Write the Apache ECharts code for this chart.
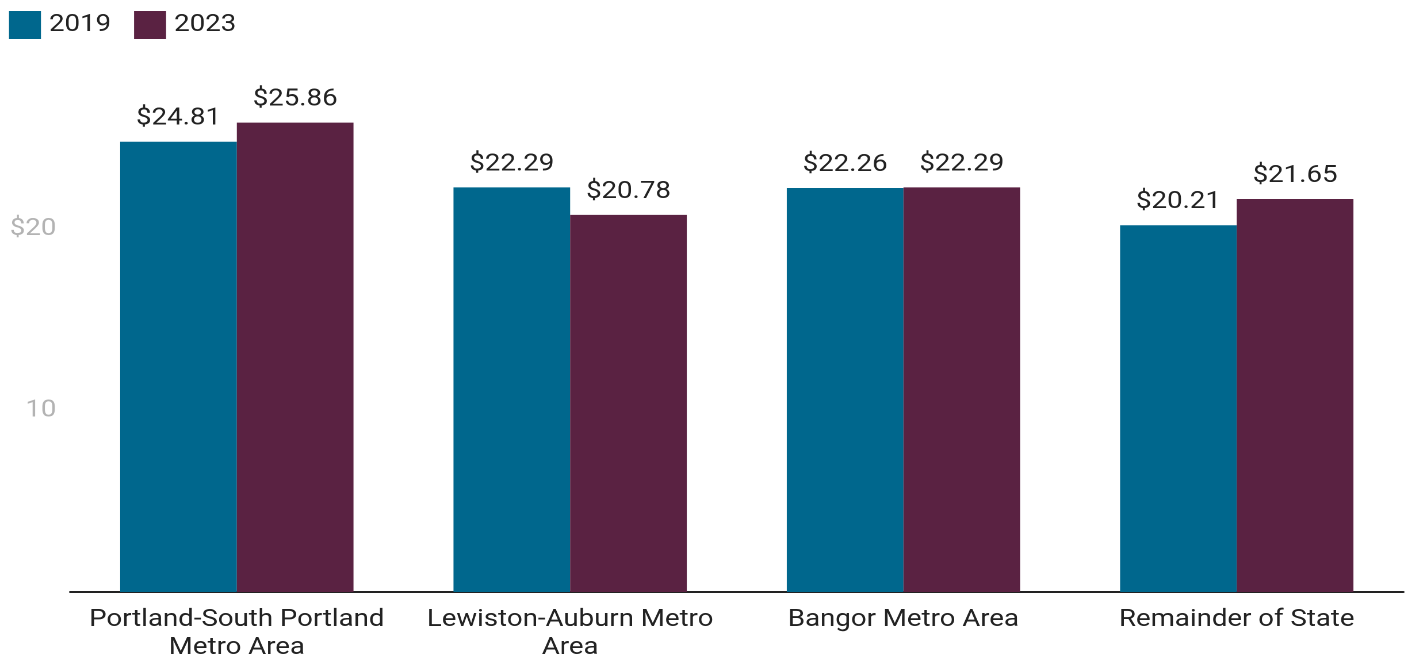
<!DOCTYPE html>
<html>
<head>
<meta charset="utf-8">
<script src="https://cdn.jsdelivr.net/npm/echarts@6/dist/echarts.min.js"></script>
<style>
  html, body { margin: 0; padding: 0; background: #fff; overflow: hidden; }
  /* The chart is laid out on a narrower canvas and widened to 1408px,
     which gives the lettering its broad, horizontally stretched look. */
  #chart {
    width: 1224px;
    height: 658px;
    transform: scaleX(1.15033);
    transform-origin: 0 0;
  }
</style>
</head>
<body>
<div id="chart"></div>
<script>
// Median hourly wage by region
const categories = [
  'Portland-South Portland\nMetro Area',
  'Lewiston-Auburn Metro\nArea',
  'Bangor Metro Area',
  'Remainder of State'
];
const wages2019 = [24.81, 22.29, 22.26, 20.21];
const wages2023 = [25.86, 20.78, 22.29, 21.65];
const seriesNames = ['2019', '2023'];
const seriesColors = ['#00678d', '#5a2242'];

const font = 'Roboto, "Noto Sans", sans-serif';
const fs = 24;

const chart = echarts.init(document.getElementById('chart'), null, {
  renderer: 'canvas',
  devicePixelRatio: 2
});

const valueLabel = {
  show: true,
  position: 'top',
  distance: 11,
  color: '#222',
  fontFamily: font,
  fontSize: fs,
  formatter: p => '$' + p.value.toFixed(2)
};

chart.setOption({
  animation: false,
  legend: {
    left: 7.8,
    top: 11,
    padding: 0,
    itemWidth: 27.8,
    itemHeight: 28,
    itemGap: 20,
    icon: 'rect',
    textStyle: { fontFamily: font, fontSize: fs, color: '#222', padding: [4, 0, 0, 2] },
    data: seriesNames
  },
  grid: {
    left: 61,
    right: 4,
    top: 47.5,
    bottom: 66,
    containLabel: false,
    outerBoundsMode: 'none'
  },
  xAxis: {
    type: 'category',
    data: categories,
    axisLine: { lineStyle: { color: '#222', width: 2 } },
    axisTick: { show: false },
    axisLabel: {
      color: '#222',
      fontFamily: font,
      fontSize: fs,
      lineHeight: 28,
      margin: 14,
      interval: 0
    }
  },
  yAxis: {
    type: 'value',
    min: 0,
    max: 30,
    interval: 10,
    splitLine: { show: false },
    axisLine: { show: false },
    axisTick: { show: false },
    axisLabel: {
      color: '#b3b3b3',
      fontFamily: font,
      fontSize: fs,
      margin: 12,
      padding: [5, 0, 0, 0],
      formatter: v => (v === 20 ? '$20' : v === 10 ? '10' : '')
    }
  },
  series: [
    {
      name: seriesNames[0],
      type: 'bar',
      data: wages2019,
      itemStyle: { color: seriesColors[0] },
      barGap: '0%',
      barCategoryGap: '30%',
      label: valueLabel
    },
    {
      name: seriesNames[1],
      type: 'bar',
      data: wages2023,
      itemStyle: { color: seriesColors[1] },
      barGap: '0%',
      barCategoryGap: '30%',
      label: valueLabel
    }
  ]
});
</script>
</body>
</html>
